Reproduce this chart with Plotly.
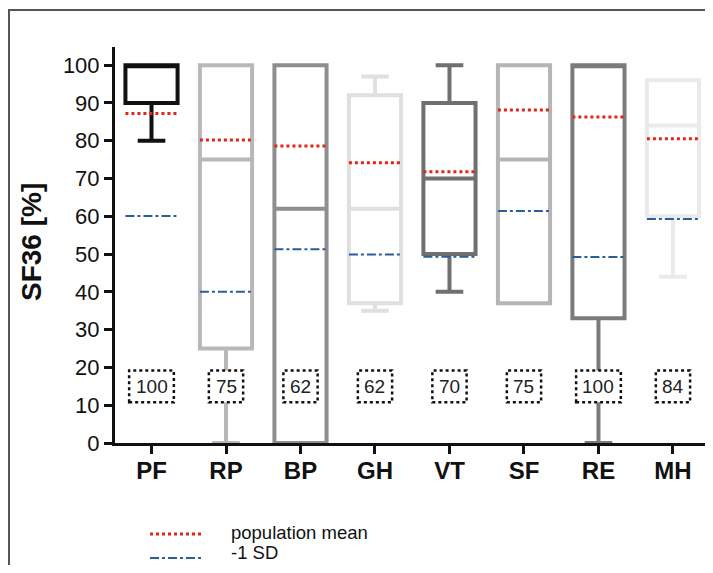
import plotly.graph_objects as go

categories = ["PF", "RP", "BP", "GH", "VT", "SF", "RE", "MH"]
lower_whisker = [80, 0, 0, 35, 40, 37, 0, 44]
q1_vals = [90, 25, 0, 37, 50, 37, 33, 60]
median_vals = [100, 75, 62, 62, 70, 75, 100, 84]
q3_vals = [100, 100, 100, 92, 90, 100, 100, 96]
upper_whisker = [100, 100, 100, 97, 100, 100, 100, 96]
pop_mean = [87.2, 80.2, 78.6, 74.2, 71.8, 88.1, 86.3, 80.5]
minus_1sd = [60.1, 40.0, 51.3, 49.9, 49.3, 61.4, 49.2, 59.3]
box_colors = ["#111111", "#b8b8b8", "#8e8e8e", "#e0e0e0", "#707070", "#b5b5b5", "#7b7b7b", "#eaeaea"]
legend_labels = ["population mean", "-1 SD"]

BOX_W = 0.7
LABEL_Y0, LABEL_Y1 = 10.8, 19.2
FONT = "Liberation Sans, Arial, sans-serif"
RED = "#e3241b"
BLUE = "#2b5d9b"

# page-pixel -> paper helpers (page is offset 8px by the body margin)
def pxx(px):
    return (px - 115) / 590.0

def pxy(py):
    return (443 - py) / 396.0

fig = go.Figure()
for i, cat in enumerate(categories):
    fig.add_trace(go.Box(
        x=[i], q1=[q1_vals[i]], median=[median_vals[i]], q3=[q3_vals[i]],
        lowerfence=[lower_whisker[i]], upperfence=[upper_whisker[i]],
        width=BOX_W, whiskerwidth=0.53, boxpoints=False,
        line=dict(color=box_colors[i], width=4),
        fillcolor="rgba(0,0,0,0)", showlegend=False, hoverinfo="skip",
    ))

mx, my, sx, sy = [], [], [], []
for i in range(len(categories)):
    mx += [i - BOX_W / 2, i + BOX_W / 2, None]
    my += [pop_mean[i], pop_mean[i], None]
    sx += [i - BOX_W / 2, i + BOX_W / 2, None]
    sy += [minus_1sd[i], minus_1sd[i], None]

fig.add_trace(go.Scatter(x=mx, y=my, mode="lines", name=legend_labels[0], showlegend=False,
                         line=dict(color=RED, width=3, dash="dot")))
fig.add_trace(go.Scatter(x=sx, y=sy, mode="lines", name=legend_labels[1], showlegend=False,
                         line=dict(color=BLUE, width=2, dash="dashdot")))

# median labels in dotted boxes
for i, m in enumerate(median_vals):
    txt = str(m)
    half = 0.09 + 0.07 * len(txt)
    fig.add_shape(type="rect", xref="x", yref="y",
                  x0=i - half, x1=i + half, y0=LABEL_Y0, y1=LABEL_Y1,
                  line=dict(color="#111111", width=2.5, dash="dot"),
                  fillcolor="white", layer="above")
    fig.add_annotation(x=i, y=(LABEL_Y0 + LABEL_Y1) / 2, xref="x", yref="y", text=txt,
                       showarrow=False, font=dict(size=19, color="#222222", family=FONT))

# page frame lines (left and top)
fig.add_shape(type="line", xref="paper", yref="paper", x0=pxx(8), x1=pxx(720),
              y0=pxy(10), y1=pxy(10), line=dict(color="#555555", width=2), layer="above")
fig.add_shape(type="line", xref="paper", yref="paper", x0=pxx(9), x1=pxx(9),
              y0=pxy(10), y1=pxy(580), line=dict(color="#555555", width=2), layer="above")

# y-axis title
fig.add_annotation(xref="paper", yref="paper", x=pxx(31), y=pxy(242), text="<b>SF36 [%]</b>",
                   textangle=-90, showarrow=False, xanchor="center", yanchor="middle",
                   font=dict(size=28, color="#111111", family=FONT))

# legend drawn below the plot
fig.add_shape(type="line", xref="paper", yref="paper", x0=pxx(150), x1=pxx(202),
              y0=pxy(534), y1=pxy(534), line=dict(color=RED, width=3, dash="dot"))
fig.add_shape(type="line", xref="paper", yref="paper", x0=pxx(150), x1=pxx(203),
              y0=pxy(558), y1=pxy(558), line=dict(color=BLUE, width=2, dash="dashdot"))
fig.add_annotation(xref="paper", yref="paper", x=pxx(229), y=pxy(532), text=legend_labels[0],
                   showarrow=False, xanchor="left", yanchor="middle",
                   font=dict(size=18.5, color="#111111", family=FONT))
fig.add_annotation(xref="paper", yref="paper", x=pxx(229), y=pxy(552), text=legend_labels[1],
                   showarrow=False, xanchor="left", yanchor="middle",
                   font=dict(size=18.5, color="#111111", family=FONT))

fig.update_layout(
    width=697, height=557,
    margin=dict(l=107, r=0, t=39, b=122),
    plot_bgcolor="white", paper_bgcolor="white",
    font=dict(family=FONT, color="#111111"),
    showlegend=False,
    xaxis=dict(range=[-0.49, 7.43], tickvals=list(range(len(categories))),
               ticktext=[f"<b>{c}</b>" for c in categories], showgrid=False, zeroline=False,
               showline=True, linecolor="#111111", linewidth=3,
               ticks="outside", ticklen=8, tickwidth=3, tickcolor="#111111",
               tickfont=dict(size=24, family=FONT, color="#111111"),
               ticklabelstandoff=-4),
    yaxis=dict(range=[0, 104.8], tickvals=list(range(0, 101, 10)),
               showgrid=False, zeroline=False, showline=True,
               linecolor="#111111", linewidth=3, ticks="outside", ticklen=8,
               tickwidth=3, tickcolor="#111111", ticklabelstandoff=0,
               tickfont=dict(size=22, family=FONT, color="#111111")),
)

fig.write_html("out.html")
